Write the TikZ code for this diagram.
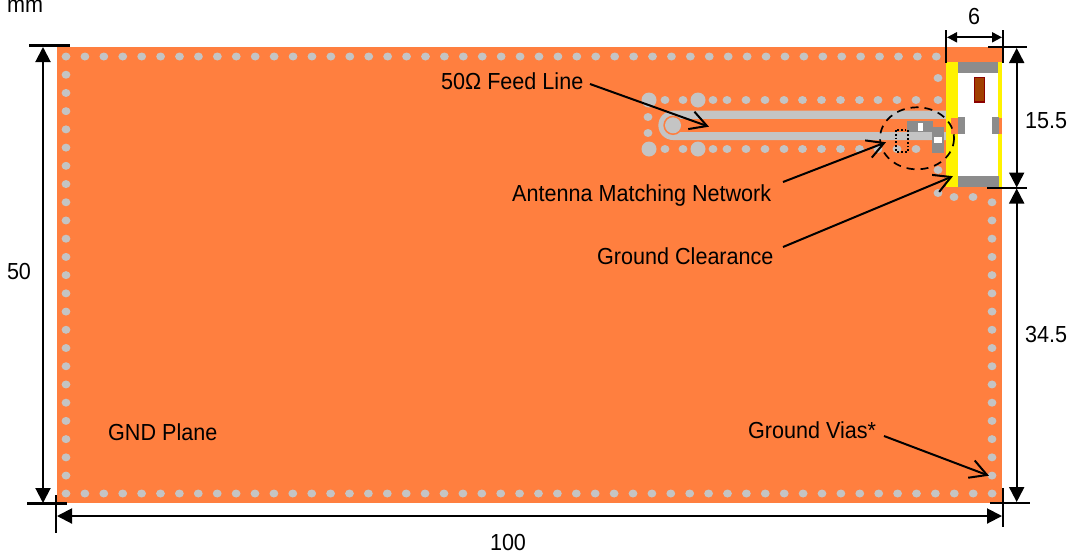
\documentclass[tikz,border=0pt]{standalone}
\usepackage{fontspec}
\setmainfont[FakeStretch=0.93]{Liberation Sans}
\usetikzlibrary{arrows.meta,calc}
\definecolor{board}{HTML}{FF7F3F}
\definecolor{via}{HTML}{C4C4C4}
\definecolor{pad}{HTML}{8C8C8C}
\tikzset{
  x=1pt,y=-1pt,
  viahole/.style={fill=via,draw=none},
  tick/.style={line width=2.3pt,black},
  dim/.style={line width=2pt,black,{Triangle[length=15pt,width=15pt]}-{Triangle[length=15pt,width=15pt]}},
  smalldim/.style={line width=2pt,black,{Triangle[length=10pt,width=10pt]}-{Triangle[length=10pt,width=10pt]}},
  callout/.style={line width=2pt,black},
  lbl/.style={font=\fontsize{23.2}{26}\selectfont,inner sep=0pt,text=black},
}
\begin{document}
\begin{tikzpicture}
\useasboundingbox (0,0) rectangle (1071,558);
% board
\fill[board] (57,47) rectangle (1002,503);
% perimeter vias
\foreach \k in {0,...,46} \fill[viahole] ({66+18.92*\k},56.5) ellipse [x radius=4.4,y radius=4];
\foreach \k in {0,...,49} \fill[viahole] ({66+18.9*\k},493.5) ellipse [x radius=4.4,y radius=4];
\foreach \k in {1,...,23} \fill[viahole] (66,{56.5+18.22*\k}) ellipse [x radius=4.4,y radius=4];
\foreach \k in {8,...,23} \fill[viahole] (992,{56.5+18.22*\k}) ellipse [x radius=4.4,y radius=4];
\foreach \vx in {954,973} \fill[viahole] (\vx,197) ellipse [x radius=4.4,y radius=4];
\foreach \vy in {78,170,193} \fill[viahole] (938,\vy) ellipse [x radius=4.4,y radius=4];
% feed-line fence
\foreach \vx in {665,683,713,727,746,765,784,802.5,821.5,840.5,859.5,878,897,916,938} \fill[viahole] (\vx,100) ellipse [x radius=4.4,y radius=4];
\foreach \vx in {665,683,713,727,746,765,784,802.5,821.5,840.5,859.5,878,897,916} \fill[viahole] (\vx,149) ellipse [x radius=4.4,y radius=4];
\foreach \vy in {117,133} \fill[viahole] (648,\vy) ellipse [x radius=4.4,y radius=4];
\foreach \vx/\vy in {649/100,698/100,649/149,698/149} \fill[viahole] (\vx,\vy) circle (7.5);
% feed line
\fill[via] (946,110.7) -- (673,110.7) arc[start angle=-90,end angle=-270,radius=14.65] -- (946,140) -- cycle;
\fill[board] (946,119) -- (673,119) -- (673,131.7) -- (946,131.7) -- cycle;
\fill[board] (673,125.3) circle (9.7);
\fill[viahole] (673,125.3) circle (8);
% clearance
\fill[yellow] (946,62) rectangle (1002,187);
\fill[white] (958,62) rectangle (998.3,187);
\fill[board] (951,117.5) rectangle (958,133.5);
\fill[board] (998.3,117.5) rectangle (1002,133.5);
\fill[pad] (958.3,62) rectangle (998,72.7);
\fill[pad] (958.3,176) rectangle (998.5,186.7);
\fill[pad] (958,117.3) rectangle (964.7,134.3);
\fill[pad] (992.3,117.3) rectangle (999,134.3);
\fill[fill={rgb,255:red,160;green,64;blue,0},draw={rgb,255:red,139;green,0;blue,0},line width=1.2pt] (974.5,77.5) rectangle (984.5,102);
% matching components
\fill[pad] (907.3,120.7) rectangle (933.3,132.3);
\fill[white] (917.7,122.5) rectangle (923.3,130.5);
\fill[pad] (932.3,126.7) rectangle (944,152.7);
\fill[white] (934,136.7) rectangle (942,142.7);
\draw[black,line width=1.8pt,dotted] (896,130) rectangle (908,151.7);
\draw[black,line width=1.7pt,dash pattern=on 8pt off 6pt] (917,138.3) ellipse [x radius=37,y radius=31];
% dimension ticks
\coordinate (tl1) at (29,45.5); \coordinate (tl2) at (69.5,45.5);
\coordinate (bl1) at (27,503.5); \coordinate (bl2) at (67,503.5);
\coordinate (bv1) at (56,495); \coordinate (bv2) at (56,533);
\coordinate (bw1) at (1003,488); \coordinate (bw2) at (1003,527);
\coordinate (br1) at (990,502.7); \coordinate (br2) at (1030,502.7);
\coordinate (tr1) at (988,47); \coordinate (tr2) at (1027,47);
\coordinate (mr1) at (987,188); \coordinate (mr2) at (1027,188);
\coordinate (tv1) at (946,30); \coordinate (tv2) at (946,63);
\coordinate (tw1) at (1003,30); \coordinate (tw2) at (1003,63);
\foreach \a/\b in {tl1/tl2,bl1/bl2,bv1/bv2,bw1/bw2,br1/br2,tr1/tr2,mr1/mr2,tv1/tv2,tw1/tw2} \draw[tick] (\a) -- (\b);
% dimension arrows
\coordinate (al1) at (43,47); \coordinate (al2) at (43,503);
\coordinate (ab1) at (57,516); \coordinate (ab2) at (1002,516);
\coordinate (ar1) at (1016.7,48); \coordinate (ar2) at (1016.7,187.5);
\coordinate (ar3) at (1016.7,188.5); \coordinate (ar4) at (1016.7,502);
\coordinate (at1) at (947,37.3); \coordinate (at2) at (1002,37.3);
\draw[dim] (al1) -- (al2);
\draw[dim] (ab1) -- (ab2);
\draw[dim] (ar1) -- (ar2);
\draw[dim] (ar3) -- (ar4);
\draw[smalldim] (at1) -- (at2);
% labels
\node[lbl,anchor=base west] (mm) at (7,12.5) {mm};
\node[lbl,anchor=base] (d6) at (974,24) {6};
\node[lbl,anchor=base] (d155) at (1046,128) {15.5};
\node[lbl,anchor=base] (d345) at (1046,342) {34.5};
\node[lbl,anchor=base] (d50) at (19,279) {50};
\node[lbl,anchor=base] (d100) at (508,550) {100};
\node[lbl,anchor=base west] (gnd) at (108,440) {GND Plane};
\node[lbl,anchor=base west] (feed) at (441,89) {50Ω Feed Line};
\node[lbl,anchor=base west] (amn) at (512,201) {Antenna Matching Network};
\node[lbl,anchor=base west] (gc) at (597,264) {Ground Clearance};
\node[lbl,anchor=base west] (gv) at (748,438) {Ground Vias*};
% callouts
\coordinate (c1s) at (590,84); \coordinate (c1e) at (707,126);
\coordinate (c2s) at (783,182); \coordinate (c2e) at (884,143);
\coordinate (c3s) at (783,247); \coordinate (c3e) at (951,177);
\coordinate (c4s) at (884,436); \coordinate (c4e) at (987,475);
\foreach \s/\e in {c1s/c1e,c2s/c2e,c3s/c3e,c4s/c4e}{
  \draw[callout] (\s) -- (\e);
  \draw[callout] ($(\e)!19pt!29:(\s)$) -- (\e) -- ($(\e)!19pt!-29:(\s)$);
}
\end{tikzpicture}
\end{document}
